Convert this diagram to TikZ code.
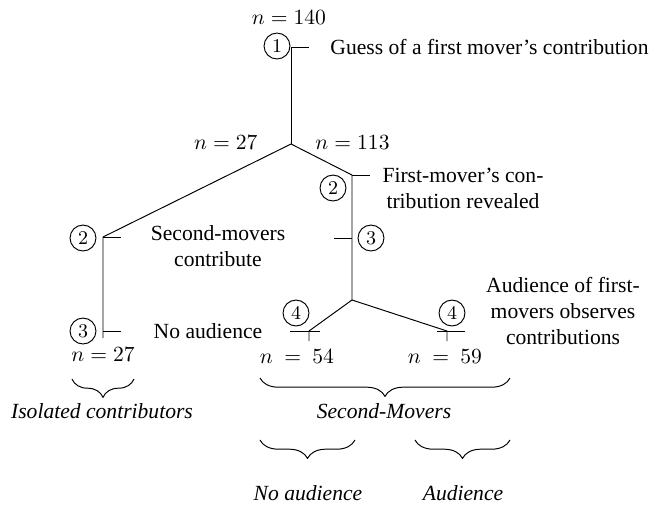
\documentclass[tikz,border=0pt]{standalone}
\usepackage{fontspec}
\setmainfont{Liberation Serif}
\usetikzlibrary{decorations.pathreplacing}
\begin{document}
\begin{tikzpicture}[x=0.463pt,y=-0.463pt,
  stage/.style={circle,draw,line width=0.45pt,minimum size=12pt,inner sep=0pt,font=\small},
  lbl/.style={align=center,inner sep=0pt},
  tree/.style={line width=0.45pt},
  brc/.style={decorate,decoration={brace,mirror,amplitude=8.5pt},line width=0.45pt}]
\useasboundingbox (0,0) rectangle (653,509);
% points of the tree
\coordinate (t1) at (291,47);
\coordinate (t1e) at (309,47);
\coordinate (b1) at (291,144);
\coordinate (l2) at (103,237);
\coordinate (l2e) at (121,237);
\coordinate (l3) at (103,331);
\coordinate (l3e) at (121,331);
\coordinate (l3b) at (103,338);
\coordinate (r2) at (352,175);
\coordinate (r2e) at (370,175);
\coordinate (r3) at (352,238);
\coordinate (r3w) at (334,238);
\coordinate (b2) at (352,300);
\coordinate (l4) at (309,331);
\coordinate (l4a) at (290,331);
\coordinate (l4b) at (320,331);
\coordinate (l4d) at (309,341);
\coordinate (r4) at (447,331);
\coordinate (r4a) at (437,331);
\coordinate (r4b) at (465,331);
\coordinate (r4d) at (447,341);
% lines
\draw[tree] (t1e) -- (t1) -- (b1);
\draw[tree] (b1) -- (l2) -- (l3b);
\draw[tree] (l2) -- (l2e);
\draw[tree] (l3) -- (l3e);
\draw[tree] (b1) -- (r2) -- (b2);
\draw[tree] (r2) -- (r2e);
\draw[tree] (r3w) -- (r3);
\draw[tree] (b2) -- (l4) -- (l4d);
\draw[tree] (l4a) -- (l4b);
\draw[tree] (b2) -- (r4) -- (r4d);
\draw[tree] (r4a) -- (r4b);
% stage circles
\node[stage] (c1) at (277,46) {$1$};
\node[stage] (c2l) at (83,238) {$2$};
\node[stage] (c3l) at (83,331) {$3$};
\node[stage] (c2r) at (333,188) {$2$};
\node[stage] (c3r) at (371,238) {$3$};
\node[stage] (c4l) at (296,313) {$4$};
\node[stage] (c4r) at (452,313) {$4$};
% labels
\node[lbl] (n140) at (289,18) {$n=140$};
\node[lbl,anchor=west] (guess) at (330,47) {Guess of a first mover's contribution};
\node[lbl,anchor=east] (n27a) at (258,143) {$n=27$};
\node[lbl,anchor=west] (n113) at (315,143) {$n=113$};
\node[lbl] (first) at (463,188) {First-mover's con-\\tribution revealed};
\node[lbl] (second) at (218,246) {Second-movers\\contribute};
\node[lbl] (noaud) at (208,331) {No audience};
\node[lbl] (aud) at (563,311) {Audience of first-\\movers observes\\contributions};
\node[lbl] (n27b) at (103,355) {$n=27$};
\node[lbl] (n54) at (297,357) {$n\ =\ 54$};
\node[lbl] (n59) at (445,357) {$n\ =\ 59$};
% braces
\coordinate (ba1) at (72,379);
\coordinate (ba2) at (134,379);
\coordinate (bb1) at (260,378);
\coordinate (bb2) at (510,378);
\coordinate (bc1) at (260,440);
\coordinate (bc2) at (355,440);
\coordinate (bd1) at (415,440);
\coordinate (bd2) at (510,440);
\draw[brc] (ba1) -- (ba2);
\draw[brc] (bb1) -- (bb2);
\draw[brc] (bc1) -- (bc2);
\draw[brc] (bd1) -- (bd2);
\node[lbl,font=\itshape] (iso) at (102,411) {Isolated contributors};
\node[lbl,font=\itshape] (sm) at (384,411) {Second-Movers};
\node[lbl,font=\itshape] (na) at (308,493) {No audience};
\node[lbl,font=\itshape] (au) at (463,493) {Audience};
\end{tikzpicture}
\end{document}
